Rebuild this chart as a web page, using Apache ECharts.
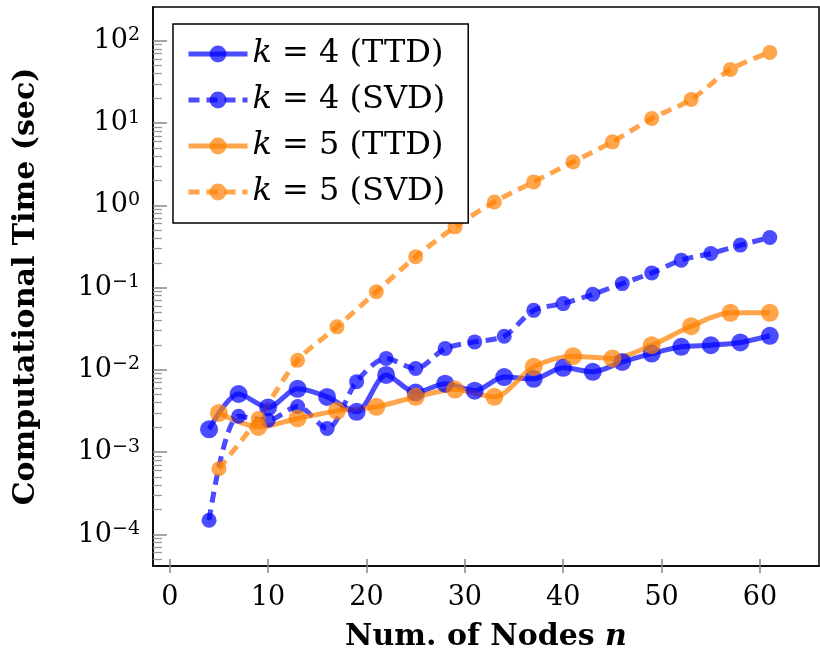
<!DOCTYPE html>
<html>
<head>
<meta charset="utf-8">
<script src="https://cdn.jsdelivr.net/npm/echarts@6/dist/echarts.min.js"></script>
<style>
  html, body { margin: 0; padding: 0; background: #fff; }
  #chart { width: 820px; height: 660px; }
</style>
</head>
<body>
<div id="chart"></div>
<script>
// x positions of the runs
const nodesK4 = [4, 7, 10, 13, 16, 19, 22, 25, 28, 31, 34, 37, 40, 43, 46, 49, 52, 55, 58, 61]
const nodesK5 = [5, 9, 13, 17, 21, 25, 29, 33, 37, 41, 45, 49, 53, 57, 61]

// computational time in seconds
const ttdK4 = [1.9e-3, 5.1e-3, 3.5e-3, 5.9e-3, 4.7e-3, 3.1e-3, 8.7e-3, 5.3e-3, 6.8e-3, 5.6e-3,
  8.2e-3, 7.8e-3, 1.06e-2, 9.5e-3, 1.25e-2, 1.58e-2, 1.91e-2, 2.0e-2, 2.16e-2, 2.6e-2]
const svdK4 = [1.49e-4, 2.74e-3, 2.45e-3, 3.6e-3, 1.94e-3, 7.2e-3, 1.38e-2, 1.04e-2, 1.82e-2, 2.19e-2,
  2.57e-2, 5.3e-2, 6.4e-2, 8.3e-2, 0.112, 0.151, 0.216, 0.26, 0.329, 0.407]
const ttdK5 = [3.0e-3, 2.03e-3, 2.57e-3, 3.18e-3, 3.56e-3, 4.71e-3, 5.78e-3, 4.71e-3, 1.09e-2, 1.47e-2,
  1.38e-2, 2.0e-2, 3.4e-2, 4.94e-2, 4.94e-2]
const svdK5 = [6.3e-4, 2.57e-3, 1.31e-2, 3.34e-2, 8.9e-2, 0.237, 0.548, 1.10, 1.93, 3.38,
  5.92, 11.4, 19.4, 44.9, 72.3]

// ticks
const xTicks = [0, 10, 20, 30, 40, 50, 60]
const yTicks = [1e-4, 1e-3, 1e-2, 1e-1, 1, 10, 100]
const yMinorTicks = []
for (let e = -5; e <= 1; e++) {
  for (let m = 2; m <= 9; m++) yMinorTicks.push(m * Math.pow(10, e))
}

const xMin = -1.7, xMax = 66
const yMin = Math.pow(10, -4.383), yMax = Math.pow(10, 2.411)

const blue = 'rgba(0,0,255,0.7)'
const orange = 'rgba(255,128,0,0.7)'
const serif = 'DejaVu Serif'

const pairs = (xs, ys) => xs.map((x, i) => [x, ys[i]])

function makeSeries(name, xs, ys, color, dashed) {
  return {
    name: name,
    type: 'line',
    data: pairs(xs, ys),
    smooth: 0.3,
    symbol: 'circle',
    symbolSize: dashed ? 15 : 18,
    showAllSymbol: true,
    lineStyle: { color: color, width: 5, type: dashed ? [11, 7] : 'solid' },
    itemStyle: { color: color, borderWidth: 0 },
    emphasis: { disabled: true }
  }
}

const chart = echarts.init(document.getElementById('chart'))
chart.setOption({
  animation: false,
  backgroundColor: '#fff',
  grid: {
    left: 153, top: 7, right: 1, bottom: 94,
    show: true, borderColor: '#000', borderWidth: 1.5,
    outerBoundsMode: 'none'
  },
  legend: {
    orient: 'vertical',
    left: 173, top: 24,
    backgroundColor: '#fff',
    borderColor: '#000', borderWidth: 1.5, borderRadius: 0,
    padding: [14, 23, 15, 13],
    itemGap: 14, itemWidth: 59, itemHeight: 21, itemTextGap: 12,
    lineStyle: { width: 5 },
    textStyle: {
      fontFamily: serif, fontSize: 32, lineHeight: 30, color: '#000',
      rich: { i: { fontFamily: serif, fontStyle: 'italic', fontSize: 32, lineHeight: 30 } }
    },
    formatter: name => '{i|k}' + name.slice(1),
    data: ['k = 4 (TTD)', 'k = 4 (SVD)', 'k = 5 (TTD)', 'k = 5 (SVD)']
  },
  xAxis: [{
    type: 'value', min: xMin, max: xMax,
    axisLine: { onZero: false, lineStyle: { color: '#000', width: 1.5 } },
    axisTick: { customValues: xTicks, length: 7, lineStyle: { color: '#888', width: 1.5 } },
    axisLabel: { customValues: xTicks, margin: 18, fontFamily: serif, fontSize: 27, color: '#000' },
    splitLine: { show: false },
    name: '{b|Num. of Nodes }{i|n}',
    nameLocation: 'middle', nameGap: 56,
    nameTextStyle: {
      rich: {
        b: { fontFamily: serif, fontWeight: 'bold', fontSize: 30, color: '#000' },
        i: { fontFamily: serif, fontWeight: 'bold', fontStyle: 'italic', fontSize: 30, color: '#000' }
      }
    }
  }, {
    type: 'value', min: xMin, max: xMax, position: 'bottom',
    axisLine: { show: false, onZero: false },
    axisTick: { customValues: xTicks, inside: true, length: 7, lineStyle: { color: '#888', width: 1.5 } },
    axisLabel: { show: false },
    splitLine: { show: false }
  }],
  yAxis: [{
    type: 'log', min: yMin, max: yMax, position: 'left',
    axisLine: { show: true, onZero: false, lineStyle: { color: '#000', width: 1.5 } },
    axisTick: { show: true, inside: true, length: 14, customValues: yTicks, lineStyle: { color: '#888', width: 1.5 } },
    axisLabel: {
      customValues: yTicks, margin: 13,
      formatter: v => {
        const e = Math.round(Math.log10(v))
        return '{b|10}{s|' + (e < 0 ? '\u2212' + (-e) : e) + '}'
      },
      rich: {
        b: { fontFamily: serif, fontSize: 27, lineHeight: 30, color: '#000' },
        s: { fontFamily: serif, fontSize: 19, lineHeight: 19, verticalAlign: 'top', color: '#000' }
      }
    },
    splitLine: { show: false },
    name: 'Computational Time (sec)',
    nameLocation: 'middle', nameGap: 112,
    nameTextStyle: { fontFamily: serif, fontWeight: 'bold', fontSize: 30, color: '#000' }
  }, {
    type: 'log', min: yMin, max: yMax, position: 'left', offset: 0,
    axisLine: { show: false, onZero: false },
    axisTick: { show: true, inside: true, length: 9, customValues: yMinorTicks, lineStyle: { color: '#999', width: 1.3 } },
    axisLabel: { show: false },
    splitLine: { show: false }
  }],
  series: [
    makeSeries('k = 4 (TTD)', nodesK4, ttdK4, blue, false),
    makeSeries('k = 4 (SVD)', nodesK4, svdK4, blue, true),
    makeSeries('k = 5 (TTD)', nodesK5, ttdK5, orange, false),
    makeSeries('k = 5 (SVD)', nodesK5, svdK5, orange, true)
  ]
})
</script>
</body>
</html>
